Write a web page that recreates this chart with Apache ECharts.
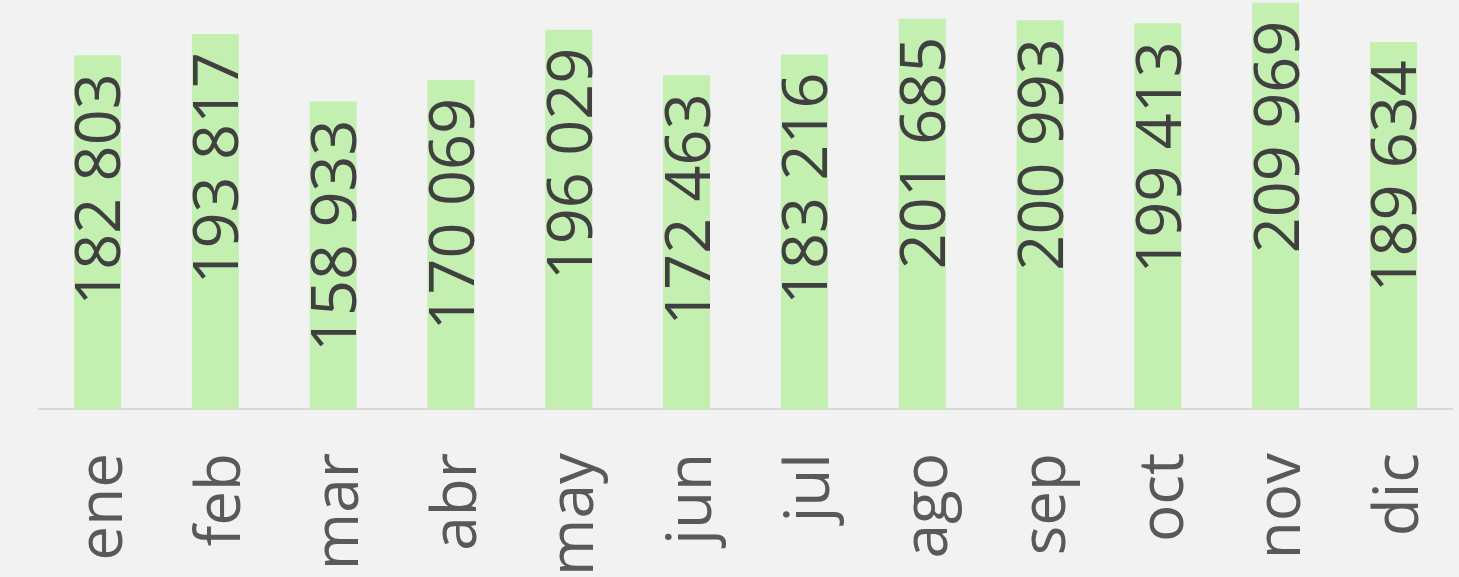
<!DOCTYPE html>
<html>
<head>
<meta charset="utf-8">
<script src="https://cdn.jsdelivr.net/npm/echarts@6/dist/echarts.min.js"></script>
<style>
  html, body { margin: 0; padding: 0; background: #f2f2f2; }
  #chart { width: 1459px; height: 577px; }
</style>
</head>
<body>
<div id="chart"></div>
<script>
// meses y valores
var meses = ['ene', 'feb', 'mar', 'abr', 'may', 'jun', 'jul', 'ago', 'sep', 'oct', 'nov', 'dic'];
var valores = [182803, 193817, 158933, 170069, 196029, 172463, 183216, 201685, 200993, 199413, 209969, 189634];

function fmt(v) {
    return String(v).replace(/\B(?=(\d{3})+(?!\d))/g, ' ');
}

var myChart = echarts.init(document.getElementById('chart'));
var option = {
    backgroundColor: '#f2f2f2',
    animation: false,
    grid: {
        left: 38.6,
        right: 6.6,
        top: 0,
        bottom: 168,
        outerBoundsMode: 'none',
        containLabel: false
    },
    xAxis: {
        type: 'category',
        data: meses,
        axisLine: {
            lineStyle: { color: '#d9d9d9', width: 2 }
        },
        axisTick: { show: false },
        axisLabel: {
            rotate: 90,
            margin: 44,
            formatter: '{m|{value}}',
            rich: {
                m: {
                    padding: [14, 0, 0, 0],
                    fontFamily: 'Open Sans',
                    fontSize: 62,
                    color: '#595959'
                }
            },
            fontFamily: 'Open Sans',
            fontSize: 62,
            color: '#595959'
        }
    },
    yAxis: {
        type: 'value',
        min: 0,
        max: 211400,
        show: false,
        splitLine: { show: false }
    },
    series: [
        {
            name: 'total',
            type: 'bar',
            barWidth: 47,
            data: valores,
            itemStyle: { color: '#c3efb0' },
            label: {
                show: true,
                position: 'insideTop',
                distance: 18,
                rotate: 90,
                align: 'right',
                verticalAlign: 'middle',
                offset: [0, 5],
                fontFamily: 'Open Sans',
                fontSize: 63,
                color: '#404040',
                formatter: function (p) { return fmt(p.value); }
            }
        }
    ]
};
myChart.setOption(option);
</script>
</body>
</html>
